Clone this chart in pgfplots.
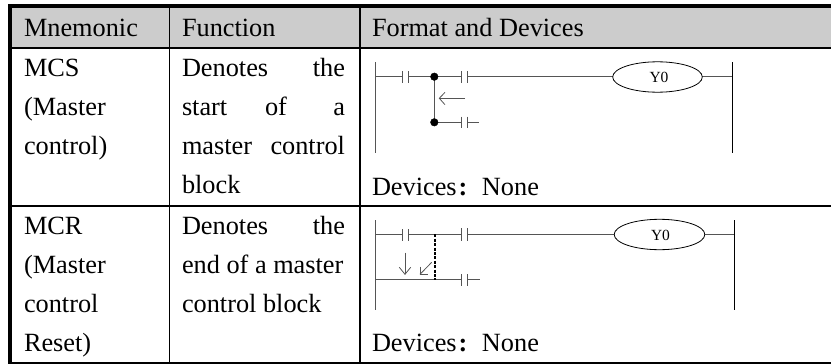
\documentclass[border=0pt]{standalone}
\usepackage{pgfplots}
\pgfplotsset{compat=1.18}
\usepackage{fontspec}
\setmainfont{Liberation Serif}
\definecolor{hdr}{HTML}{CCCCCC}
\definecolor{lad}{HTML}{555555}
\begin{document}
\begin{tikzpicture}[
  t/.style={anchor=base west,inner sep=0pt,outer sep=0pt,font=\fontsize{26.3pt}{26.3pt}\selectfont},
  r/.style={anchor=base east,inner sep=0pt,outer sep=0pt,font=\fontsize{26.3pt}{26.3pt}\selectfont},
  y0/.style={anchor=center,inner sep=0pt,font=\fontsize{15.5pt}{15.5pt}\selectfont}]
\begin{axis}[
  scale only axis,width=831pt,height=364pt,
  xmin=0,xmax=831,ymin=0,ymax=364,y dir=reverse,
  hide axis,clip=true]
% page extent
\addplot[draw=none,forget plot] coordinates {(0,0)(831,364)};
% header band
\addplot[fill=hdr,draw=none] coordinates {(12,8)(831,8)(831,47)(12,47)} --cycle;
% table rules
\addplot[black,line width=3.6pt,forget plot] coordinates {(8,6)(831,6)};
\addplot[black,line width=2pt,forget plot] coordinates {(10,48)(831,48)};
\addplot[black,line width=2.2pt,forget plot] coordinates {(10,205.6)(831,205.6)};
\addplot[black,line width=2.4pt,forget plot] coordinates {(8,362.8)(831,362.8)};
\addplot[black,line width=3.6pt,forget plot] coordinates {(10,4)(10,364)};
\addplot[black,line width=1.6pt,forget plot] coordinates {(169.3,6)(169.3,364)};
\addplot[black,line width=1.6pt,forget plot] coordinates {(360,6)(360,364)};
% ladder 1
\addplot[lad,line width=1pt] coordinates {(375.7,62)(375.7,152.7)};
\addplot[lad,line width=1pt] coordinates {(375.7,76.7)(402.3,76.7)};
\addplot[lad,line width=1pt] coordinates {(402.3,71)(402.3,83)};
\addplot[lad,line width=1pt] coordinates {(408,71)(408,83)};
\addplot[lad,line width=1pt] coordinates {(408,76.7)(461.7,76.7)};
\addplot[lad,line width=1pt] coordinates {(461.7,71)(461.7,83)};
\addplot[lad,line width=1pt] coordinates {(467.3,71)(467.3,83)};
\addplot[lad,line width=1pt] coordinates {(467.3,76.7)(612.7,76.7)};
\addplot[lad,line width=1pt] coordinates {(702.3,76.7)(732,76.7)};
\addplot[black,line width=1pt] coordinates {(732.3,62)(732.3,152.5)};
\addplot[lad,line width=1.2pt] coordinates {(434.5,76.7)(434.5,122.3)};
\addplot[lad,line width=1pt] coordinates {(434.5,122.3)(461.7,122.3)};
\addplot[lad,line width=1pt] coordinates {(461.7,116.7)(461.7,128.3)};
\addplot[lad,line width=1pt] coordinates {(467.3,116.7)(467.3,128.3)};
\addplot[lad,line width=1pt] coordinates {(467.3,122.3)(479.3,122.3)};
\addplot[only marks,mark=*,mark size=3.8pt,black] coordinates {(434.3,76.7)(434.3,122.3)};
\addplot[lad,line width=0.8pt] coordinates {(465,98.3)(439.3,98.3)};
\addplot[lad,line width=0.8pt] coordinates {(445,92.3)(439.3,98.3)(445,104.7)};
\draw[black,line width=0.8pt] (axis cs:657.5,77) ellipse [x radius=44.8,y radius=15.2];
\node[y0] at (axis cs:659,77.5) {Y0};
% ladder 2
\addplot[lad,line width=1pt] coordinates {(375.7,220)(375.7,310)};
\addplot[lad,line width=1pt] coordinates {(375.7,234.3)(402.3,234.3)};
\addplot[lad,line width=1pt] coordinates {(402.3,229)(402.3,240.5)};
\addplot[lad,line width=1pt] coordinates {(408.3,229)(408.3,240.5)};
\addplot[lad,line width=1pt] coordinates {(408.3,234.3)(461.7,234.3)};
\addplot[lad,line width=1pt] coordinates {(461.7,228.3)(461.7,240.7)};
\addplot[lad,line width=1pt] coordinates {(467.7,228.3)(467.7,240.7)};
\addplot[lad,line width=1pt] coordinates {(467.7,234.3)(614,234.3)};
\addplot[lad,line width=1pt] coordinates {(705,234.3)(733.5,234.3)};
\addplot[black,line width=1pt] coordinates {(734.3,220)(734.3,310)};
\addplot[lad,line width=1pt] coordinates {(375.7,279.5)(461.7,279.5)};
\addplot[lad,line width=1pt] coordinates {(461.7,274)(461.7,286)};
\addplot[lad,line width=1pt] coordinates {(467.7,274)(467.7,286)};
\addplot[lad,line width=1pt] coordinates {(467.7,279.5)(480,279.5)};
\addplot[black,line width=2pt,dash pattern=on 3pt off 1.4pt] coordinates {(435,234.3)(435,280)};
\addplot[lad,line width=0.8pt] coordinates {(405,252.7)(405,274.3)};
\addplot[lad,line width=0.8pt] coordinates {(399.3,267.3)(405,274.3)(410.7,267.3)};
\addplot[lad,line width=0.8pt] coordinates {(431.7,262.3)(420,274.3)};
\addplot[lad,line width=0.8pt] coordinates {(420,266.7)(420,274.3)(428.3,274.3)};
\draw[black,line width=0.8pt] (axis cs:659.5,234.5) ellipse [x radius=45.3,y radius=15.2];
\node[y0] at (axis cs:660.5,235) {Y0};
% text
\node[t] at (axis cs:24,36.7) {Mnemonic};
\node[t] at (axis cs:182,36.7) {Function};
\node[t] at (axis cs:372,36.7) {Format and Devices};
\node[t] at (axis cs:24,76.7) {MCS};
\node[t] at (axis cs:24,115.7) {(Master};
\node[t] at (axis cs:24,154.7) {control)};
\node[t] at (axis cs:182,76.7) {Denotes};
\node[r] at (axis cs:345,76.7) {the};
\node[t] at (axis cs:182,115.7) {start};
\node[t] at (axis cs:265,115.7) {of};
\node[r] at (axis cs:345,115.7) {a};
\node[t] at (axis cs:182,154.7) {master};
\node[r] at (axis cs:345,154.7) {control};
\node[t] at (axis cs:182,193.5) {block};
\node[t] at (axis cs:372,195) {Devices\kern2pt\textbf{:}\kern14.5pt None};
\node[t] at (axis cs:24,234) {MCR};
\node[t] at (axis cs:24,273) {(Master};
\node[t] at (axis cs:24,312.5) {control};
\node[t] at (axis cs:24,351.7) {Reset)};
\node[t] at (axis cs:182,234) {Denotes};
\node[r] at (axis cs:345,234) {the};
\node[t] at (axis cs:182,273) {end of a master};
\node[t] at (axis cs:182,312.5) {control block};
\node[t] at (axis cs:372,351.7) {Devices\kern2pt\textbf{:}\kern14.5pt None};
\end{axis}
\end{tikzpicture}
\end{document}
